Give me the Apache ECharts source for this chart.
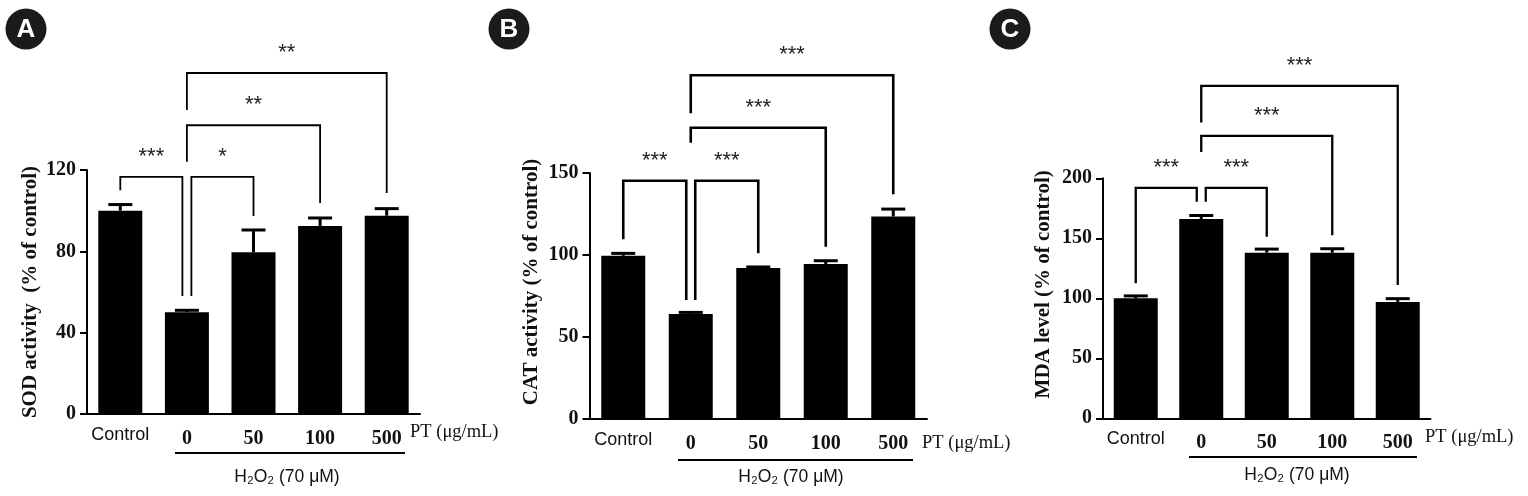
<!DOCTYPE html>
<html lang="en" style="height: 100%">
<head>
  <meta charset="utf-8">
</head>
<body style="height: 100%; margin: 0; background: #fff">
  <div id="container" style="width: 1528px; height: 496px"></div>
  <script src="https://cdn.jsdelivr.net/npm/echarts@6/dist/echarts.min.js"></script>
  <script>
    var categories = ['Control', '0', '50', '100', '500'];

    // A: SOD activity (% of control), bar = mean, upper = top of error bar
    var sodMean = [100, 50, 79.5, 92.5, 97.5];
    var sodUpper = [103, 51, 90.5, 96.4, 101];
    // B: CAT activity
    var catMean = [99.5, 64, 92, 94.5, 123.5];
    var catUpper = [101, 65, 92.7, 96.5, 128];
    // C: MDA level
    var mdaMean = [100, 166, 138, 138, 97];
    var mdaUpper = [102, 169, 141, 141.3, 99.7];

    // brackets: [from, to, top, left foot, right foot, stars]
    var sodSig = [
      [0, 1, 116.6, 110, 58, '***'],
      [1, 2, 116.6, 58, 97.4, '*'],
      [1, 3, 142, 124, 103.8, '**'],
      [1, 4, 167.7, 149.5, 108.7, '**']
    ];
    var catSig = [
      [0, 1, 145.3, 109.6, 72.6, '***'],
      [1, 2, 145.3, 72.6, 101, '***'],
      [1, 3, 177.6, 168.5, 105, '***'],
      [1, 4, 209.6, 186.4, 137, '***']
    ];
    var mdaSig = [
      [0, 1, 192, 112.5, 180.5, '***'],
      [1, 2, 192, 180.5, 151.3, '***'],
      [1, 3, 235.3, 222, 152.5, '***'],
      [1, 4, 277, 246.4, 111, '***']
    ];

    var panels = [
      { letter: 'A', name: 'SOD activity  (% of control)', mean: sodMean, upper: sodUpper, sig: sodSig,
        max: 120, step: 40, left: 87, top: 170, width: 333, height: 244, nameGap: 46, shift: 0, lw: 1.8,
        cx: 26, ptX: 410, ptY: 432, ulX1: 175, ulX2: 405, ulY: 453, hX: 287, hY: 477 },
      { letter: 'B', name: 'CAT activity (% of control)', mean: catMean, upper: catUpper, sig: catSig,
        max: 150, step: 50, left: 589.5, top: 173, width: 337.5, height: 246, nameGap: 47, shift: 28, lw: 2.6,
        cx: 509, ptX: 922, ptY: 443, ulX1: 678, ulX2: 913, ulY: 460, hX: 791, hY: 477 },
      { letter: 'C', name: 'MDA level (% of control)', mean: mdaMean, upper: mdaUpper, sig: mdaSig,
        max: 200, step: 50, left: 1103, top: 178.3, width: 327.5, height: 240, nameGap: 49, shift: 28, lw: 2.3,
        cx: 1010, ptX: 1425, ptY: 437, ulX1: 1189, ulX2: 1417, ulY: 457, hX: 1297, hY: 475 }
    ];

    var dom = document.getElementById('container');
    var myChart = echarts.init(dom, null, { renderer: 'canvas' });

    var grids = [], xAxes = [], yAxes = [], series = [], graphics = [];

    panels.forEach(function (p, k) {
      grids.push({ left: p.left, top: p.top, width: p.width, height: p.height });

      xAxes.push({
        gridIndex: k,
        type: 'category',
        data: categories,
        axisLine: { lineStyle: { color: '#000', width: 2 } },
        axisTick: { alignWithLabel: true, length: 7, lineStyle: { color: '#000', width: 2 } },
        axisLabel: {
          margin: 12,
          interval: 0,
          formatter: function (v) {
            return v === 'Control' ? '{c|Control}' : '{n|' + v + '}';
          },
          rich: {
            c: { fontFamily: 'Liberation Sans', fontSize: 18, color: '#111' },
            n: { fontFamily: 'Liberation Serif', fontWeight: 'bold', fontSize: 20, color: '#111', padding: [3, 0, 0, 0] }
          }
        }
      });

      yAxes.push({
        gridIndex: k,
        type: 'value',
        min: 0,
        max: p.max,
        interval: p.step,
        splitLine: { show: false },
        axisLine: { show: true, lineStyle: { color: '#000', width: 2 } },
        axisTick: { show: true, length: 7, lineStyle: { color: '#000', width: 2 } },
        axisLabel: { margin: 11, fontFamily: 'Liberation Serif', fontWeight: 'bold', fontSize: 20, color: '#111' },
        name: p.name,
        nameLocation: 'middle',
        nameGap: p.nameGap,
        nameTextStyle: {
          fontFamily: 'Liberation Serif', fontWeight: 'bold', fontSize: 21, color: '#111',
          padding: [0, 0, 0, p.shift]
        }
      });

      series.push({
        type: 'bar',
        xAxisIndex: k,
        yAxisIndex: k,
        data: p.mean,
        barWidth: 44,
        itemStyle: { color: '#000' },
        silent: true
      });

      // error bars (upward only)
      series.push({
        type: 'custom',
        xAxisIndex: k,
        yAxisIndex: k,
        data: p.mean.map(function (m, i) { return [i, m, p.upper[i]]; }),
        encode: { x: 0, y: 1 },
        silent: true,
        z: 3,
        renderItem: function (params, api) {
          var lo = api.coord([api.value(0), api.value(1)]);
          var hi = api.coord([api.value(0), api.value(2)]);
          return {
            type: 'group',
            children: [
              { type: 'line', shape: { x1: lo[0], y1: lo[1], x2: hi[0], y2: hi[1] }, style: { stroke: '#000', lineWidth: 3 } },
              { type: 'line', shape: { x1: hi[0] - 12, y1: hi[1], x2: hi[0] + 12, y2: hi[1] }, style: { stroke: '#000', lineWidth: 3 } }
            ]
          };
        }
      });

      // significance brackets
      series.push({
        type: 'custom',
        xAxisIndex: k,
        yAxisIndex: k,
        data: p.sig.map(function (s) { return [s[0], s[1], s[2], s[3], s[4]]; }),
        encode: { x: 0, y: 2 },
        silent: true,
        clip: false,
        z: 4,
        renderItem: function (params, api) {
          var from = api.value(0), to = api.value(1);
          var top = api.coord([from, api.value(2)]);
          var f1 = api.coord([from, api.value(3)]);
          var f2 = api.coord([to, api.value(4)]);
          var x1 = f1[0], x2 = f2[0];
          if (to - from === 1) {
            if (from === 1) x1 += 4.5;
            if (to === 1) x2 -= 4.5;
          }
          return {
            type: 'group',
            children: [
              {
                type: 'polyline',
                shape: { points: [[x1, f1[1]], [x1, top[1]], [x2, top[1]], [x2, f2[1]]] },
                style: { stroke: '#000', lineWidth: p.lw, fill: null }
              },
              {
                type: 'text',
                style: {
                  text: p.sig[params.dataIndex][5],
                  x: (x1 + x2) / 2,
                  y: top[1] - 20,
                  align: 'center',
                  verticalAlign: 'middle',
                  font: '22px "Liberation Sans"',
                  fill: '#222'
                }
              }
            ]
          };
        }
      });

      // panel letter
      graphics.push({ type: 'circle', shape: { cx: p.cx, cy: 29, r: 20.5 }, style: { fill: '#1b1b1b' } });
      graphics.push({
        type: 'text', x: p.cx, y: 30,
        style: { text: p.letter, align: 'center', verticalAlign: 'middle', font: 'bold 26px "Liberation Sans"', fill: '#fff' }
      });
      // PT unit
      graphics.push({
        type: 'text', x: p.ptX, y: p.ptY,
        style: { text: 'PT (μg/mL)', align: 'left', verticalAlign: 'middle', font: '18.5px "Liberation Serif"', fill: '#111' }
      });
      // H2O2 group line and label
      graphics.push({ type: 'line', shape: { x1: p.ulX1, y1: p.ulY, x2: p.ulX2, y2: p.ulY }, style: { stroke: '#000', lineWidth: 2 } });
      graphics.push({
        type: 'text', x: p.hX, y: p.hY,
        style: { text: 'H₂O₂ (70 μM)', align: 'center', verticalAlign: 'middle', font: '17.5px "Liberation Sans"', fill: '#111' }
      });
    });

    var option = {
      animation: false,
      backgroundColor: '#fff',
      grid: grids,
      xAxis: xAxes,
      yAxis: yAxes,
      series: series,
      graphic: graphics
    };

    myChart.setOption(option);
    window.addEventListener('resize', myChart.resize);
  </script>
</body>
</html>
